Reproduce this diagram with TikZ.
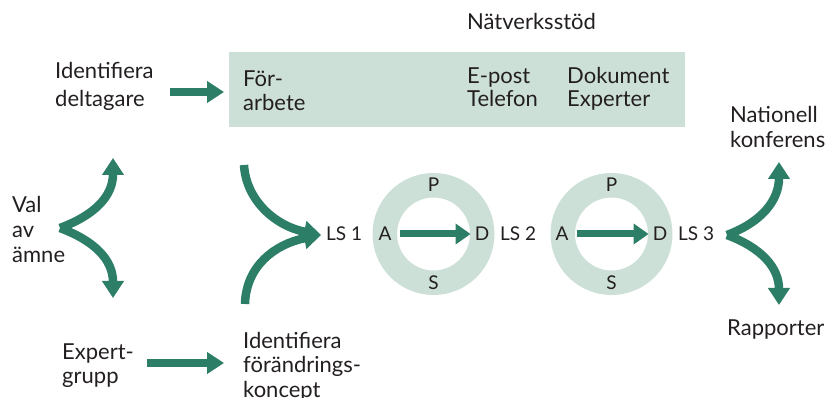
\documentclass[tikz,border=0pt]{standalone}
\usepackage{fontspec}
\setmainfont{Lato}
\usetikzlibrary{arrows.meta}
\definecolor{flowgreen}{RGB}{44,126,102}
\definecolor{paleteal}{RGB}{205,224,216}
\definecolor{ink}{RGB}{35,31,32}
\begin{document}
\begin{tikzpicture}[x=1pt,y=-1pt,
  % multi-line labels: base anchor sits on the last line's baseline
  lbl/.style={text=ink, inner sep=0pt, anchor=base west, align=left,
              font=\fontsize{22}{25}\selectfont},
  small/.style={text=ink, inner sep=0pt, anchor=base,
              font=\fontsize{19}{22}\selectfont},
  fat/.style={draw=flowgreen, line width=8.5pt, line cap=butt,
              -{Triangle[length=17pt,width=21pt]}},
  slim/.style={draw=flowgreen, line width=7pt, line cap=butt,
              -{Triangle[length=15pt,width=20pt]}},
  ringstyle/.style={draw=paleteal, line width=24.5pt}]
\useasboundingbox (0,0) rectangle (828,398);

% shaded preparation / network-support band
\node[fill=paleteal, minimum width=456pt, minimum height=75pt, inner sep=0pt,
      anchor=north west] (band) at (229,52) {};

% texts
\node[lbl] (natv) at (467,30) {Nätverksstöd};
\node[lbl, font=\fontsize{22}{24}\selectfont] (forarb) at (243,111) {För-\\arbete};
\node[lbl, font=\fontsize{22}{23}\selectfont] (epost) at (467,107) {E-post\\Telefon};
\node[lbl, font=\fontsize{22}{23}\selectfont] (dok) at (567,107) {Dokument\\Experter};
\node[lbl, font=\fontsize{22}{28}\selectfont] (idd) at (55,107) {Identifiera\\deltagare};
\node[lbl] (val) at (12,263) {Val\\av\\ämne};
\node[lbl, font=\fontsize{22}{24}\selectfont] (exp) at (62,383) {Expert-\\grupp};
\node[lbl, font=\fontsize{22}{24.5}\selectfont] (idf) at (243,397) {Identifiera\\förändrings-\\koncept};
\node[lbl] (nat) at (730,148) {Nationell\\konferens};
\node[lbl] (rap) at (727,335) {Rapporter};

% PDSA rings
\draw[ringstyle] (433.5,234) circle (48.75);
\draw[ringstyle] (611.5,234) circle (48.75);

\node[small] (p1) at (433.5,192) {P};
\node[small] (s1) at (433.5,290) {S};
\node[small] (a1) at (385,241) {A};
\node[small] (d1) at (482,241) {D};
\node[small] (p2) at (611.5,192) {P};
\node[small] (s2) at (611.5,290) {S};
\node[small] (a2) at (562,241) {A};
\node[small] (d2) at (660,241) {D};
\node[small, anchor=base west] (ls1) at (326,241) {LS 1};
\node[small, anchor=base west] (ls2) at (500,241) {LS 2};
\node[small, anchor=base west] (ls3) at (678,241) {LS 3};

% arrow end points
\coordinate (iddR) at (170,92);
\coordinate (bandL) at (224,92);
\coordinate (expR) at (147,363);
\coordinate (idfL) at (224,363);
\coordinate (valR) at (60,228);
\coordinate (upL) at (113,158);
\coordinate (dnL) at (113,298);
\coordinate (forT) at (244,165);
\coordinate (idfT) at (245,304);
\coordinate (ls1L) at (321,235);
\coordinate (ls3R) at (727,235);
\coordinate (natB) at (779,162);
\coordinate (rapT) at (779,305);

% straight arrows
\draw[fat] (iddR) -- (bandL);
\draw[fat] (expR) -- (idfL);
\draw[slim] (a1.east |- 0,234) ++(8,0) -- ([xshift=-4pt]d1.west |- 0,234);
\draw[slim] (a2.east |- 0,234) ++(8,0) -- ([xshift=-4pt]d2.west |- 0,234);

% curved arrows
\draw[fat] (valR) .. controls (95,215) and (113,196) .. (upL);
\draw[fat] (valR) .. controls (95,241) and (113,260) .. (dnL);
\draw[fat] (forT) .. controls (246,200) and (275,226) .. (ls1L);
\draw[fat] (idfT) .. controls (246,266) and (275,244) .. (ls1L);
\draw[fat] (ls3R) .. controls (762,222) and (779,200) .. (natB);
\draw[fat] (ls3R) .. controls (762,248) and (779,268) .. (rapT);
\end{tikzpicture}
\end{document}
